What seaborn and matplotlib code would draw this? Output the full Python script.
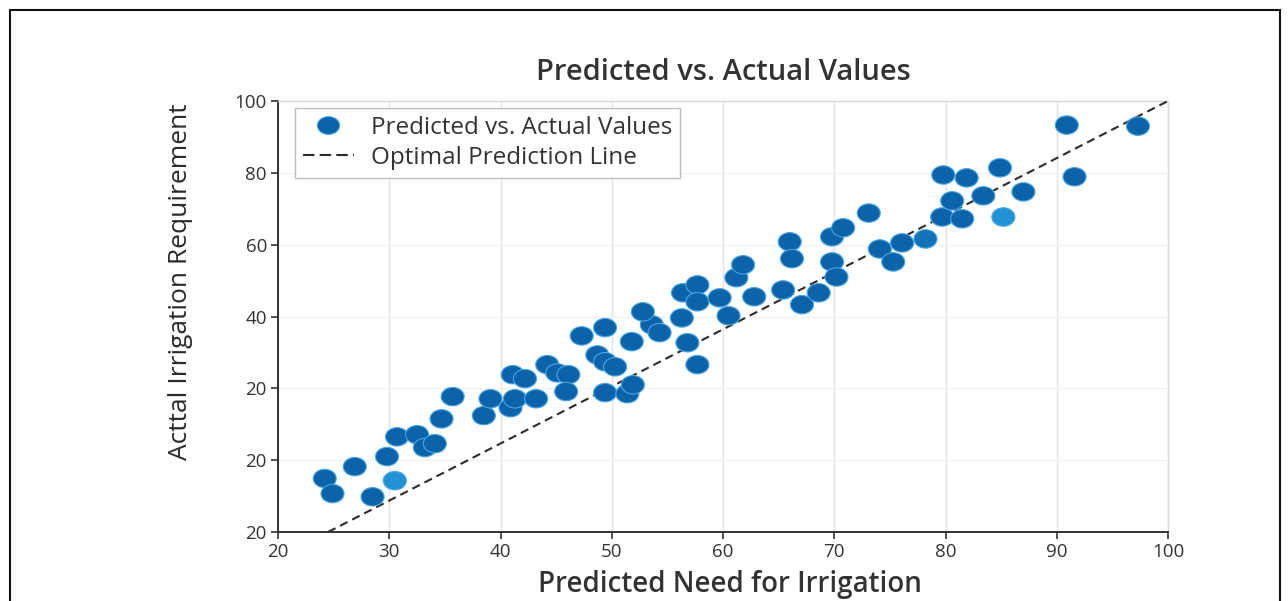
import numpy as np
import pandas as pd
import matplotlib
matplotlib.use("Agg")
import matplotlib.pyplot as plt
from matplotlib.path import Path
from matplotlib.lines import Line2D
from matplotlib.patches import Rectangle
import seaborn as sns

# ---------------- data ----------------
predicted = [24.2, 24.9, 26.9, 28.5, 29.8, 30.5, 30.7, 32.5, 33.2, 34.1,
             34.7, 35.7, 38.5, 39.1, 40.9, 41.3, 43.2, 41.1, 42.2, 44.2,
             45.1, 46.1, 45.9, 47.3, 49.4, 48.7, 49.4, 50.3, 49.4, 51.4,
             51.9, 51.8, 53.6, 54.3, 56.3, 56.8, 57.7, 60.5, 52.8, 56.4,
             57.7, 57.7, 59.7, 61.2, 61.8, 62.8, 65.4, 66.0, 66.2, 67.1,
             68.6, 69.8, 70.8, 69.8, 70.2, 73.1, 74.1, 75.3, 76.1, 78.2,
             79.7, 81.5, 80.6, 79.8, 81.9, 83.4, 84.9, 85.2, 87.0, 90.9,
             91.6, 97.3]
actual = [-5.1, -9.3, -1.8, -10.2, 1.0, -5.7, 6.5, 7.1, 3.5, 4.6,
          11.5, 17.7, 12.4, 17.1, 14.6, 17.1, 17.1, 23.8, 22.7, 26.6,
          24.3, 23.8, 19.1, 34.6, 36.9, 29.3, 27.4, 26.0, 18.8, 18.5,
          21.0, 33.0, 37.7, 35.5, 39.6, 32.7, 26.6, 40.2, 41.3, 46.6,
          48.8, 44.1, 45.2, 50.8, 54.4, 45.5, 47.4, 60.8, 56.1, 43.3,
          46.6, 62.2, 64.7, 55.2, 51.0, 68.8, 58.8, 55.2, 60.5, 61.6,
          67.7, 67.2, 72.2, 79.4, 78.6, 73.6, 81.4, 67.7, 74.7, 93.3,
          78.9, 93.0]
tone = ["dark"] * len(predicted)
for i in (5, 67):
    tone[i] = "light"
tone[59] = "mid"

line_x = [24.5, 100.0]
line_y = [-20.0, 100.0]

x_ticks = [20, 30, 40, 50, 60, 70, 80, 90, 100]
y_ticks = [-20, 0, 20, 40, 60, 80, 100]
y_tick_labels = ["20", "20", "20", "40", "60", "80", "100"]

title = "Predicted vs. Actual Values"
x_label = "Predicted Need for Irrigation"
y_label = "Acttal Irrigation Requirement"
scatter_label = "Predicted vs. Actual Values"
line_label = "Optimal Prediction Line"

df = pd.DataFrame({"predicted": predicted, "actual": actual, "tone": tone})

# ---------------- style ----------------
sns.set_theme(style="white")
plt.rcParams["font.family"] = ["Open Sans", "DejaVu Sans"]

dark_blue = "#0b63a9"
palette = {"dark": dark_blue, "light": "#2291d6", "mid": "#1273b8"}

# elliptical marker (wider than tall)
circ = Path.unit_circle()
ellipse = Path(circ.vertices * np.array([1.0, 0.8]), circ.codes)

fig = plt.figure(figsize=(12.88, 6.01), dpi=100)
ax = fig.add_axes([278 / 1288, 1 - 532 / 601, 890 / 1288, 431 / 601])

sns.lineplot(x=line_x, y=line_y, ax=ax, color="#302a28", linewidth=1.5,
             linestyle=(0, (4, 2.5)), sort=False, legend=False, zorder=3)
sns.scatterplot(data=df, x="predicted", y="actual", hue="tone", palette=palette,
                marker=ellipse, s=275, edgecolor="#4aa6e3", linewidth=0.8,
                legend=False, ax=ax, zorder=4)

ax.set_xlim(20, 100)
ax.set_ylim(-20, 100)
ax.set_xticks(x_ticks)
ax.set_xticklabels([str(t) for t in x_ticks])
ax.set_yticks(y_ticks)
ax.set_yticklabels(y_tick_labels)

ax.grid(True, axis="x", color="#e3e3e3", linewidth=1.0)
ax.grid(True, axis="y", color="#f1f1f1", linewidth=1.0)
ax.set_axisbelow(True)

for side in ("left", "bottom"):
    ax.spines[side].set_color("#333333")
    ax.spines[side].set_linewidth(1.4)
for side in ("top", "right"):
    ax.spines[side].set_color("#d8d8d8")
    ax.spines[side].set_linewidth(1.0)

ax.tick_params(axis="both", which="both", direction="out", length=5, width=1.2,
               color="#333333", labelsize=13.5, labelcolor="#333333", pad=3,
               bottom=True, left=True)

ax.set_xlabel(x_label, fontsize=20, fontweight="semibold", color="#333333")
ax.xaxis.set_label_coords(0.508, -0.088)
ax.set_ylabel(y_label, fontsize=19, color="#2a2a2a")
ax.yaxis.set_label_coords(-0.096, 0.58)

ax.text(0.5, 1 + (101 - 72) / 431, title, transform=ax.transAxes,
        ha="center", va="center", fontsize=21, fontweight="semibold",
        color="#333333")

handles = [
    Line2D([], [], linestyle="none", marker=ellipse, markersize=16,
           markerfacecolor=dark_blue, markeredgecolor="#4aa6e3",
           markeredgewidth=0.8),
    Line2D([], [], color="#2a2a2a", linewidth=1.5, linestyle=(0, (5.5, 2.5))),
]
leg = ax.legend(handles, [scatter_label, line_label], loc="upper left",
                bbox_to_anchor=(0.019, 0.984), fontsize=17.5, frameon=True,
                fancybox=False, edgecolor="#bdbdbd", framealpha=1,
                handlelength=2.1, labelspacing=0.25, borderpad=0.32,
                handletextpad=0.7, borderaxespad=0.0)
for t in leg.get_texts():
    t.set_color("#333333")
leg.get_frame().set_linewidth(1.0)

fig.patches.append(Rectangle((10 / 1288, -0.02), 1270 / 1288, 1.02 - 10 / 601,
                             transform=fig.transFigure, fill=False,
                             edgecolor="#111111", linewidth=1.5))

fig.savefig("out.png", dpi=100, facecolor="white")
